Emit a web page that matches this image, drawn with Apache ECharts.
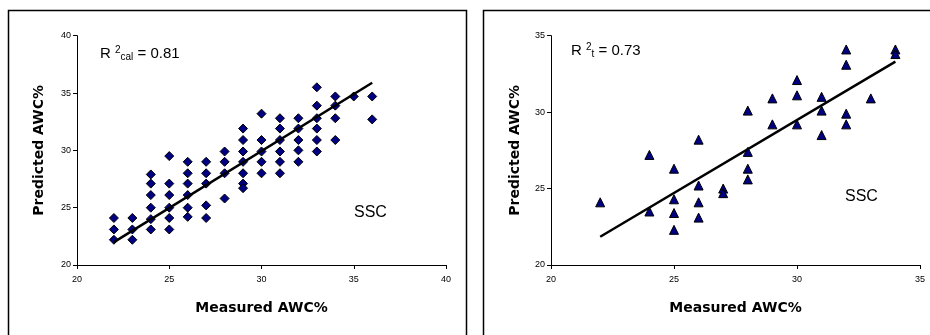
<!DOCTYPE html>
<html>
<head>
<meta charset="utf-8">
<script src="https://cdn.jsdelivr.net/npm/echarts@6/dist/echarts.min.js"></script>
<style>html,body{margin:0;padding:0;background:#fff;}#c{width:930px;height:335px;}</style>
</head>
<body>
<div id="c"></div>
<script>
// Calibration panel (diamonds)
const calX = [22,22,22, 23,23,23, 24,24,24,24,24,24, 25,25,25,25,25,25, 26,26,26,26,26,26, 27,27,27,27,27, 28,28,28,28, 29,29,29,29,29,29,29, 30,30,30,30,30, 31,31,31,31,31,31, 32,32,32,32,32, 33,33,33,33,33,33, 34,34,34,34, 35, 36,36];
const calY = [24.1,23.1,22.2, 24.1,23.1,22.2, 27.9,27.1,26.1,25.0,24.0,23.1, 29.5,27.1,26.1,25.0,24.1,23.1, 29.0,28.0,27.1,26.1,25.0,24.2, 29.0,28.0,27.1,25.2,24.1, 29.9,29.0,28.0,25.8, 31.9,30.9,29.9,29.0,28.0,27.1,26.7, 33.2,30.9,29.9,29.0,28.0, 32.8,31.9,30.9,29.9,29.0,28.0, 32.8,31.9,30.9,30.0,29.0, 35.5,33.9,32.8,31.9,30.9,29.9, 34.7,33.9,32.8,30.9, 34.7, 34.7,32.7];
const calFitX = [22, 36];
const calFitY = [22.0, 35.9];

// Test panel (triangles)
const testX = [22, 24,24, 25,25,25,25, 26,26,26,26, 27,27, 28,28,28,28, 29,29, 30,30,30, 31,31,31, 32,32,32,32, 33, 34,34];
const testY = [24.1, 27.2,23.5, 26.3,24.3,23.4,22.3, 28.2,25.2,24.1,23.1, 25.0,24.7, 30.1,27.4,26.3,25.6, 30.9,29.2, 32.1,31.1,29.2, 31.0,30.1,28.5, 34.1,33.1,29.9,29.2, 30.9, 34.1,33.8];
const testFitX = [22, 34];
const testFitY = [21.85, 33.3];

const leftXTicks = [20, 40, 5];   // min, max, interval
const leftYTicks = [20, 40, 5];
const rightXTicks = [20, 35, 5];
const rightYTicks = [20, 35, 5];

const xName = 'Measured AWC%';
const yName = 'Predicted AWC%';

function zip(a, b) { return a.map((v, i) => [v, b[i]]); }

const chart = echarts.init(document.getElementById('c'), null, {renderer: 'canvas'});

const FF = 'Liberation Sans, Arial, sans-serif';
const labelFont = {color: '#000', fontSize: 9, fontFamily: FF};
const nameFont = {color: '#000', fontSize: 14, fontWeight: 'bold', fontFamily: 'DejaVu Sans, sans-serif'};

function xAxis(idx, t) {
  return {
    type: 'value', gridIndex: idx, min: t[0], max: t[1], interval: t[2],
    name: xName, nameLocation: 'middle', nameGap: 36, nameTextStyle: nameFont,
    axisLine: {lineStyle: {color: '#000', width: 1}},
    axisTick: {show: true, inside: false, length: 4, lineStyle: {color: '#000'}},
    axisLabel: Object.assign({margin: 10}, labelFont),
    splitLine: {show: false}
  };
}
function yAxis(idx, t, gap) {
  return {
    type: 'value', gridIndex: idx, min: t[0], max: t[1], interval: t[2],
    name: yName, nameLocation: 'middle', nameGap: gap, nameTextStyle: nameFont,
    axisLine: {show: true, lineStyle: {color: '#000', width: 1}},
    axisTick: {show: true, inside: false, length: 4, lineStyle: {color: '#000'}},
    axisLabel: Object.assign({margin: 6}, labelFont),
    splitLine: {show: false}
  };
}

function r2Rich() {
  return {
    n: {fontSize: 15, fontFamily: FF, fill: '#000'},
    sup: {fontSize: 10, fontFamily: FF, fill: '#000', padding: [0, 0, 8, 0]},
    sub: {fontSize: 10, fontFamily: FF, fill: '#000', padding: [7, 0, 0, 0]}
  };
}

const option = {
  backgroundColor: '#fff',
  animation: false,
  grid: [
    {left: 77, right: 484, top: 35.7, bottom: 70},
    {left: 551, right: 10, top: 35.7, bottom: 70}
  ],
  xAxis: [xAxis(0, leftXTicks), xAxis(1, rightXTicks)],
  yAxis: [yAxis(0, leftYTicks, 31), yAxis(1, rightYTicks, 29)],
  series: [
    {type: 'scatter', xAxisIndex: 0, yAxisIndex: 0, data: zip(calX, calY),
     symbol: 'diamond', symbolSize: 9,
     itemStyle: {color: '#000080', borderColor: '#000', borderWidth: 1, opacity: 1}, z: 2},
    {type: 'line', xAxisIndex: 0, yAxisIndex: 0, data: zip(calFitX, calFitY),
     showSymbol: false, symbol: 'none', lineStyle: {color: '#000', width: 2.5}, z: 3},
    {type: 'scatter', xAxisIndex: 1, yAxisIndex: 1, data: zip(testX, testY),
     symbol: 'triangle', symbolSize: 9,
     itemStyle: {color: '#000080', borderColor: '#000', borderWidth: 1, opacity: 1}, z: 2},
    {type: 'line', xAxisIndex: 1, yAxisIndex: 1, data: zip(testFitX, testFitY),
     showSymbol: false, symbol: 'none', lineStyle: {color: '#000', width: 2.5}, z: 3}
  ],
  graphic: [
    {type: 'rect', shape: {x: 8.5, y: 10.5, width: 458, height: 400}, style: {fill: 'none', stroke: '#000', lineWidth: 1.5}, z: 0, silent: true},
    {type: 'rect', shape: {x: 483.5, y: 10.5, width: 470, height: 400}, style: {fill: 'none', stroke: '#000', lineWidth: 1.5}, z: 0, silent: true},
    {type: 'text', left: 100, top: 45, style: {text: '{n|R }{sup|2}{sub|cal}{n| = 0.81}', rich: r2Rich()}},
    {type: 'text', left: 571, top: 42, style: {text: '{n|R }{sup|2}{sub|t}{n| = 0.73}', rich: r2Rich()}},
    {type: 'text', left: 354, top: 205, style: {text: 'SSC', fontSize: 16, fontFamily: FF, fill: '#000'}},
    {type: 'text', left: 845, top: 189, style: {text: 'SSC', fontSize: 16, fontFamily: FF, fill: '#000'}}
  ]
};
chart.setOption(option);
</script>
</body>
</html>
